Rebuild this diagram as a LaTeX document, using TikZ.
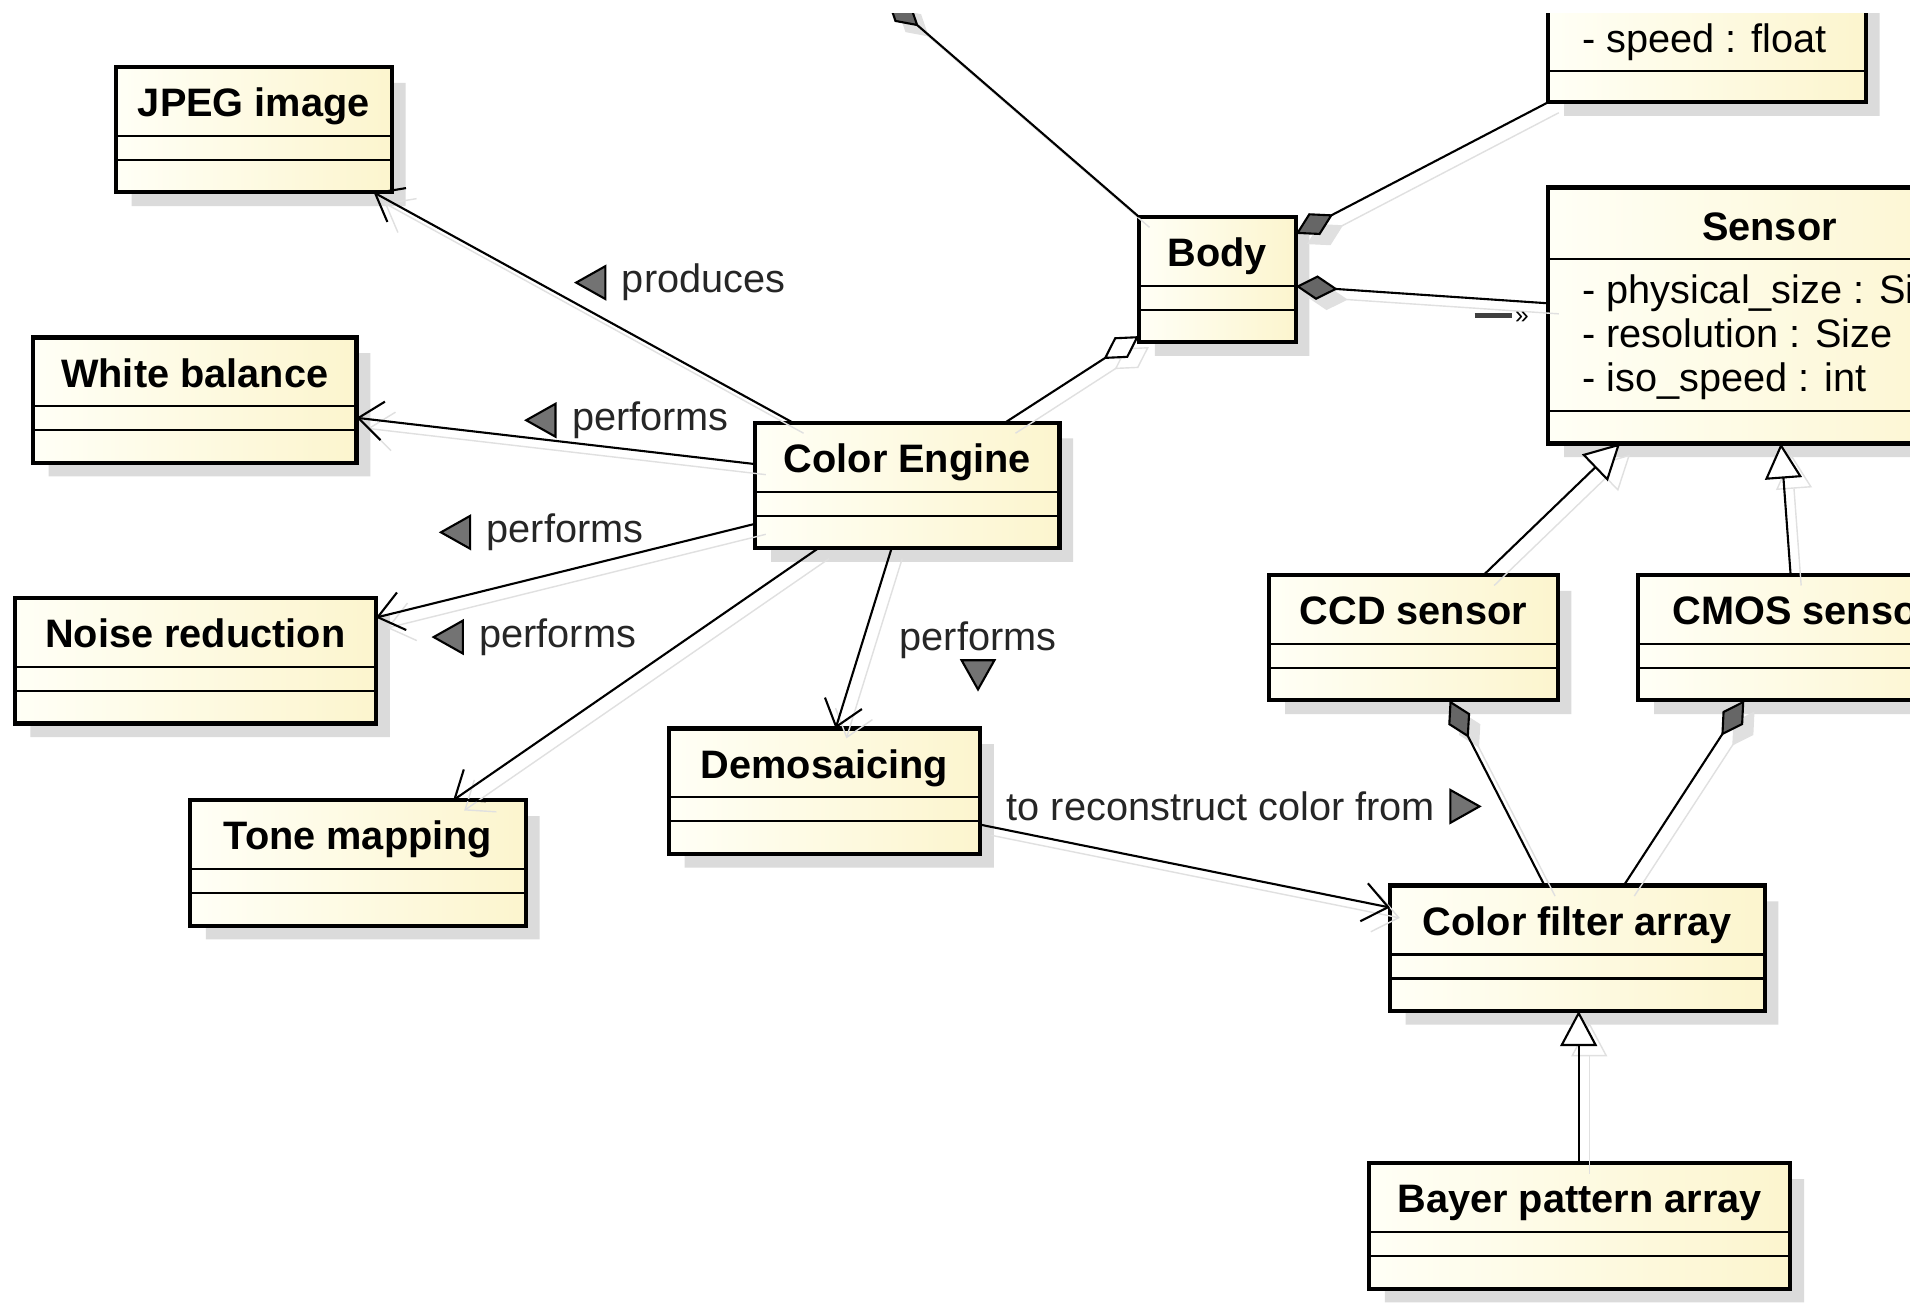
\documentclass[tikz,border=0pt]{standalone}
\usepackage{fontspec}
\setmainfont{Liberation Sans}
\usetikzlibrary{shapes.multipart}
\usetikzlibrary{shadows}
\usetikzlibrary{arrows.meta}
\usetikzlibrary{calc}

\definecolor{clslight}{RGB}{255,255,246}
\definecolor{clsyellow}{RGB}{252,245,206}
\newlength\upx
\setlength\upx{0.12182mm}
\newcommand{\hdr}[1]{\rule[-15\upx]{0pt}{54\upx}\textbf{#1}}
\newcommand{\cmp}[1]{\rule{0pt}{#1\upx}}

\tikzset{
umlclass/.style={rectangle split,rectangle split parts=3,draw=black,line width=0.6pt,
  anchor=north west,inner xsep=0pt,inner ysep=0pt,left color=clslight,right color=clsyellow,
  font=\fontsize{11.3}{12.5}\selectfont,
  drop shadow={shadow xshift=4.2pt,shadow yshift=-4.2pt,fill=black!14,opacity=1}},
attrclass/.style={umlclass,align=left,inner xsep=27\upx,rectangle split part align={center,left,center}},
lineshadow/.style={draw=black!12,transform canvas={shift={(3pt,-3pt)}}},
rel/.style={line width=0.6pt},
uses/.style={rel,-{Straight Barb[length=7pt,width=11pt]},preaction={lineshadow}},
isa/.style={rel,-{Triangle[fill=white,length=10pt,width=10.5pt]},preaction={lineshadow}},
owns/.style={rel,{Diamond[fill=black!60,length=12pt,width=7pt]}-,
  preaction={lineshadow,{Diamond[fill=black!12,length=12pt,width=7pt]}-}},
holds/.style={rel,{Diamond[fill=white,length=12pt,width=7pt]}-,preaction={lineshadow}},
lbl/.style={anchor=west,inner sep=0pt,text=black!85,font=\fontsize{11.3}{12.5}\selectfont},
tri/.pic={\filldraw[fill=black!55,line width=0.6pt] (-12,0) -- (12,-13.5) -- (12,13.5) -- cycle;}
}

\begin{document}
\begin{tikzpicture}[x=0.12182mm,y=-0.12182mm]
\path[use as bounding box,fill=white] (0,0) rectangle (1568,1069);
\clip (0,11) rectangle (1568,1069);

% classes
\path (95,55) node(jpeg) [umlclass,minimum width=225\upx] {\hdr{JPEG image}\nodepart{two}\cmp{18}\nodepart{three}\cmp{24}};
\path (27,277) node(wb) [umlclass,minimum width=264\upx] {\hdr{White balance}\nodepart{two}\cmp{18}\nodepart{three}\cmp{24}};
\path (12,491) node(nr) [umlclass,minimum width=295\upx] {\hdr{Noise reduction}\nodepart{two}\cmp{18}\nodepart{three}\cmp{24}};
\path (156,657) node(tm) [umlclass,minimum width=274\upx] {\hdr{Tone mapping}\nodepart{two}\cmp{18}\nodepart{three}\cmp{24}};
\path (549,598) node(demo) [umlclass,minimum width=254\upx] {\hdr{Demosaicing}\nodepart{two}\cmp{18}\nodepart{three}\cmp{24}};
\path (620,347) node(ce) [umlclass,minimum width=248\upx] {\hdr{Color Engine}\nodepart{two}\cmp{18}\nodepart{three}\cmp{24}};
\path (935,178) node(body) [umlclass,minimum width=127\upx] {\hdr{Body}\nodepart{two}\cmp{18}\nodepart{three}\cmp{24}};
\path (1042,472) node(ccd) [umlclass,minimum width=235\upx] {\hdr{CCD sensor}\nodepart{two}\cmp{18}\nodepart{three}\cmp{24}};
\path (1345,472) node(cmos) [umlclass,minimum width=268\upx] {\hdr{CMOS sensor}\nodepart{two}\cmp{18}\nodepart{three}\cmp{24}};
\path (1141,727) node(cfa) [umlclass,minimum width=306\upx] {\hdr{Color filter array}\nodepart{two}\cmp{18}\nodepart{three}\cmp{24}};
\path (1124,955) node(bayer) [umlclass,minimum width=344\upx] {\hdr{Bayer pattern array}\nodepart{two}\cmp{18}\nodepart{three}\cmp{24}};
\path (1271,154) node(sensor) [attrclass,minimum width=352\upx] {\rule[-14\upx]{0pt}{56\upx}\textbf{Sensor}
\nodepart{two}\rule{0pt}{36\upx}- physical\_size : Size\\
- resolution : Size\\
- iso\_speed : int\rule[-15\upx]{0pt}{0pt}
\nodepart{three}\cmp{24}};
\path (1271,-100) node(topcls) [attrclass,minimum width=259\upx] {\cmp{54}\nodepart{two}\rule[-14\upx]{0pt}{100\upx}- speed : float\nodepart{three}\cmp{23}};
\foreach \c in {jpeg,wb,nr,tm,demo,ce,body,ccd,cmos,cfa,bayer,sensor,topcls}
  \draw[line width=1.2pt] (\c.north west) rectangle (\c.south east);

% relations
\coordinate (offtop) at (728,-1);
\draw[owns] (offtop) -- (body.north west);
\draw[uses] ($(ce.north west)+(31,0)$) -- ($(jpeg.south east)+(-15,0)$);
\draw[uses] ($(ce.north west)+(0,34)$) -- ($(wb.north east)+(0,66)$);
\draw[uses] ($(ce.north west)+(0,83)$) -- ($(nr.north east)+(0,16)$);
\draw[uses] ($(ce.south west)+(52,0)$) -- ($(tm.north west)+(216,0)$);
\draw[uses] ($(ce.south west)+(112,0)$) -- ($(demo.north west)+(137,0)$);
\draw[holds] ($(body.south west)+(0,-5)$) -- ($(ce.north west)+(205,0)$);
\draw[owns] ($(body.north east)+(0,14)$) -- (topcls.south west);
\draw[owns] ($(body.north east)+(0,57)$) -- ($(sensor.north west)+(0,95)$);
\draw[isa] ($(ccd.north west)+(176,0)$) -- ($(sensor.south west)+(59,0)$);
\draw[isa] ($(cmos.north west)+(125,0)$) -- ($(sensor.south west)+(191,0)$);
\draw[owns] ($(ccd.south west)+(148,0)$) -- ($(cfa.north west)+(127,0)$);
\draw[owns] ($(cmos.south west)+(87,0)$) -- ($(cfa.north west)+(192,0)$);
\draw[isa] ($(bayer.north west)+(172,0)$) -- ($(cfa.south west)+(155,0)$);
\draw[uses] ($(demo.north east)+(0,79)$) -- ($(cfa.north west)+(0,18)$);

% labels
\node[lbl] (lprod) at (510,232) {produces};
\pic at ($(lprod.west)+(-25,0)$) {tri};
\node[lbl] (lwb) at (469,345) {performs};
\pic at ($(lwb.west)+(-25,0)$) {tri};
\node[lbl] (lnr) at (399,437) {performs};
\pic at ($(lnr.west)+(-25,0)$) {tri};
\node[lbl] (ltm) at (393,523) {performs};
\pic at ($(ltm.west)+(-25,0)$) {tri};
\node[lbl] (ldemo) at (738,526) {performs};
\pic[rotate=90] at ($(ldemo.center)+(0,28)$) {tri};
\node[lbl] (lcfa) at (826,662) {to reconstruct color from};
\pic[rotate=180] at ($(lcfa.east)+(24,0)$) {tri};
\node[anchor=west,inner sep=0pt] (navmark) at (1210,261) {{\color{black!75}\rule[1.6pt]{10.5pt}{1.3pt}}\hspace{1pt}{\fontsize{7}{7}\selectfont »}};
\end{tikzpicture}
\end{document}
